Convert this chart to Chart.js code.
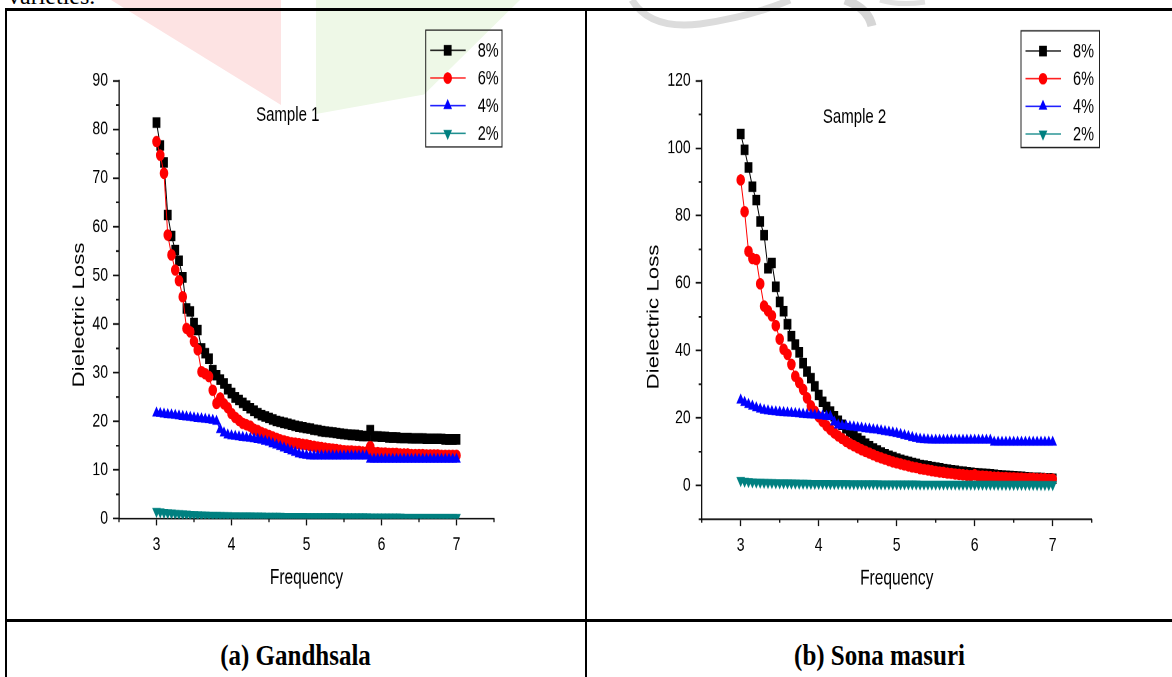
<!DOCTYPE html>
<html lang="en">
<head>
<meta charset="UTF-8">
<title>Dielectric Loss vs Frequency</title>
<script src="https://cdn.jsdelivr.net/npm/chart.js"></script>
<style>
  html, body { margin: 0; padding: 0; background: #fff; }
  body { width: 1172px; height: 677px; position: relative; overflow: hidden; }
  .wm { position: absolute; }
  .pink { left: 111px; top: 0; width: 170px; height: 105px; background: #fde3e3; clip-path: polygon(0 0, 100% 0, 100% 100%); }
  .green { left: 316px; top: 0; width: 204px; height: 114px; background: #eef8e7; clip-path: polygon(0 0, 100% 0, 53% 83%, 0 100%); }
  .rule { position: absolute; background: #000; }
  .toptext { position: absolute; left: 8px; top: -17px; font: 24px "Liberation Serif", serif; color: #000; }
  .chartbox { position: absolute; top: 0; width: 580px; height: 459px; transform: scaleY(1.35); transform-origin: 0 0; }
  .chartbox canvas { display: block; }
  .caption { position: absolute; top: 640px; font: bold 25px "Liberation Serif", serif; line-height: 30px; text-align: center; color: #000; transform: scaleY(1.2); transform-origin: 50% 50%; }
</style>
</head>
<body>
  <div class="wm pink"></div>
  <div class="wm green"></div>
  <svg class="wm" style="left:0;top:0" width="1172" height="40">
    <path d="M 632 0 Q 650 30 700 24 Q 750 17 790 0" fill="none" stroke="#dcdcdc" stroke-width="7"/>
    <path d="M 845 0 Q 868 8 872 26" fill="none" stroke="#d6d6d6" stroke-width="9"/>
    <path d="M 880 0 Q 900 6 925 2" fill="none" stroke="#e2e2e2" stroke-width="5"/>
  </svg>
  <div class="toptext">varieties.</div>

  <div class="rule" style="left:5px;top:8px;width:1167px;height:2.5px"></div>
  <div class="rule" style="left:5px;top:8px;width:1.5px;height:669px"></div>
  <div class="rule" style="left:585px;top:8px;width:1.5px;height:669px"></div>
  <div class="rule" style="left:5px;top:619px;width:1167px;height:2.5px"></div>

  <div class="chartbox" style="left:0"><canvas id="chart1"></canvas></div>
  <div class="chartbox" style="left:586px"><canvas id="chart2"></canvas></div>

  <div class="caption" style="left:6px;width:579px">(a) Gandhsala</div>
  <div class="caption" style="left:587px;width:585px">(b) Sona masuri</div>

<script>
// frequency values shared by every series
const freq = [
  3.00, 3.05, 3.10, 3.15, 3.20, 3.25, 3.30, 3.35, 3.40, 3.45,
  3.50, 3.55, 3.60, 3.65, 3.70, 3.75, 3.80, 3.85, 3.90, 3.95,
  4.00, 4.05, 4.10, 4.15, 4.20, 4.25, 4.30, 4.35, 4.40, 4.45,
  4.50, 4.55, 4.60, 4.65, 4.70, 4.75, 4.80, 4.85, 4.90, 4.95,
  5.00, 5.05, 5.10, 5.15, 5.20, 5.25, 5.30, 5.35, 5.40, 5.45,
  5.50, 5.55, 5.60, 5.65, 5.70, 5.75, 5.80, 5.85, 5.90, 5.95,
  6.00, 6.05, 6.10, 6.15, 6.20, 6.25, 6.30, 6.35, 6.40, 6.45,
  6.50, 6.55, 6.60, 6.65, 6.70, 6.75, 6.80, 6.85, 6.90, 6.95,
  7.00
];
const seriesLabels = ['8%', '6%', '4%', '2%'];

// Sample 1 (Gandhsala)
const s1_8 = [
  81.4, 76.7, 73.2, 62.4, 58.1, 55.2, 53.0, 49.6, 43.2, 42.6,
  40.2, 38.8, 35.0, 34.0, 32.9, 30.5, 29.5, 28.6, 27.8, 26.6,
  25.8, 24.9, 24.4, 23.8, 23.2, 22.7, 22.2, 21.7, 21.3, 21.0,
  20.7, 20.4, 20.1, 19.9, 19.7, 19.5, 19.3, 19.1, 18.9, 18.8,
  18.6, 18.5, 18.3, 18.2, 18.0, 17.9, 17.8, 17.7, 17.6, 17.5,
  17.4, 17.3, 17.2, 17.2, 17.1, 17.0, 17.0, 18.2, 16.9, 16.9,
  16.8, 16.8, 16.7, 16.7, 16.7, 16.6, 16.6, 16.6, 16.5, 16.5,
  16.5, 16.5, 16.4, 16.4, 16.4, 16.4, 16.4, 16.3, 16.3, 16.3,
  16.3
];
const s1_6 = [
  77.5, 74.7, 71.0, 58.3, 54.2, 51.1, 48.9, 45.6, 39.1, 38.4,
  36.4, 34.7, 30.2, 29.8, 29.2, 26.4, 23.7, 24.8, 23.6, 22.8,
  21.6, 20.8, 20.2, 19.6, 19.3, 19.0, 18.4, 18.1, 17.7, 17.4,
  17.1, 16.8, 16.5, 16.2, 16.0, 15.8, 15.6, 15.5, 15.4, 15.3,
  15.2, 15.0, 14.9, 14.7, 14.6, 14.5, 14.4, 14.3, 14.2, 14.1,
  14.0, 13.9, 13.9, 13.8, 13.8, 13.7, 13.7, 14.8, 13.6, 13.6,
  13.5, 13.5, 13.4, 13.4, 13.4, 13.3, 13.3, 13.3, 13.2, 13.2,
  13.2, 13.2, 13.1, 13.1, 13.1, 13.1, 13.0, 13.0, 13.0, 13.0,
  13.0
];
const s1_4 = [
  21.7, 21.6, 21.5, 21.4, 21.3, 21.2, 21.1, 21.0, 20.9, 20.8,
  20.7, 20.6, 20.5, 20.4, 20.3, 20.2, 20.0, 18.3, 17.6, 17.2,
  17.0, 16.9, 16.8, 16.7, 16.6, 16.5, 16.4, 16.3, 16.1, 15.9,
  15.7, 15.4, 15.1, 14.8, 14.5, 14.2, 13.9, 13.6, 13.3, 13.1,
  13.0, 12.9, 12.9, 12.9, 12.9, 12.9, 12.9, 12.9, 12.9, 12.9,
  12.9, 12.9, 12.9, 12.9, 12.9, 12.9, 12.9, 12.2, 12.2, 12.2,
  12.2, 12.2, 12.2, 12.2, 12.2, 12.2, 12.2, 12.2, 12.2, 12.2,
  12.2, 12.2, 12.2, 12.2, 12.2, 12.2, 12.2, 12.2, 12.2, 12.2,
  12.2
];
const s1_2 = [
  1.5, 1.4, 1.3, 1.25, 1.2, 1.1, 1.05, 1.0, 0.95, 0.9,
  0.85, 0.82, 0.8, 0.77, 0.75, 0.72, 0.7, 0.68, 0.66, 0.64,
  0.62, 0.6, 0.59, 0.58, 0.57, 0.56, 0.55, 0.54, 0.53, 0.52,
  0.51, 0.5, 0.5, 0.49, 0.48, 0.48, 0.47, 0.47, 0.46, 0.46,
  0.45, 0.45, 0.44, 0.44, 0.43, 0.43, 0.42, 0.42, 0.42, 0.41,
  0.41, 0.4, 0.4, 0.4, 0.39, 0.39, 0.39, 0.38, 0.38, 0.38,
  0.37, 0.37, 0.37, 0.36, 0.36, 0.36, 0.35, 0.35, 0.35, 0.34,
  0.34, 0.34, 0.33, 0.33, 0.33, 0.32, 0.32, 0.32, 0.31, 0.31,
  0.3
];

// Sample 2 (Sona masuri)
const s2_8 = [
  104.2, 99.5, 94.3, 88.6, 84.6, 78.3, 74.2, 64.4, 66.0, 58.9,
  54.4, 51.7, 47.8, 44.3, 41.8, 39.5, 36.3, 33.8, 31.8, 29.4,
  26.8, 24.8, 23.3, 21.9, 20.5, 19.2, 18.0, 16.9, 15.9, 14.9,
  14.0, 13.2, 12.4, 11.7, 11.0, 10.4, 9.8, 9.3, 8.8, 8.4,
  8.0, 7.6, 7.3, 7.0, 6.7, 6.4, 6.1, 5.9, 5.7, 5.5,
  5.3, 5.1, 4.9, 4.7, 4.5, 4.4, 4.2, 4.1, 3.9, 3.8,
  3.7, 3.6, 3.5, 3.4, 3.3, 3.2, 3.1, 3.0, 2.9, 2.8,
  2.7, 2.6, 2.6, 2.5, 2.4, 2.3, 2.3, 2.2, 2.1, 2.1,
  2.0
];
const s2_6 = [
  90.6, 81.2, 69.4, 67.3, 67.0, 59.8, 53.2, 51.8, 50.3, 47.4,
  43.4, 40.4, 38.9, 35.9, 32.4, 30.5, 28.5, 26.0, 23.6, 22.0,
  20.4, 19.0, 17.7, 16.6, 15.6, 14.7, 13.9, 13.1, 12.4, 11.8,
  11.2, 10.6, 10.1, 9.6, 9.1, 8.6, 8.2, 7.8, 7.4, 7.0,
  6.7, 6.4, 6.1, 5.8, 5.5, 5.3, 5.0, 4.8, 4.6, 4.4,
  4.2, 4.0, 3.9, 3.7, 3.6, 3.4, 3.3, 3.2, 3.1, 3.0,
  3.2, 2.8, 2.8, 2.7, 2.6, 2.5, 2.5, 2.4, 2.4, 2.3,
  2.3, 2.2, 2.2, 2.1, 2.1, 2.1, 2.0, 2.0, 2.0, 1.9,
  1.9
];
const s2_4 = [
  25.3, 24.6, 24.0, 23.5, 23.0, 22.6, 22.3, 22.1, 21.9, 21.8,
  21.7, 21.6, 21.5, 21.4, 21.3, 21.2, 21.1, 21.0, 20.9, 20.8,
  20.7, 20.6, 20.5, 20.4, 18.8, 17.9, 17.7, 17.6, 17.4, 17.3,
  17.1, 17.0, 16.8, 16.7, 16.5, 16.4, 16.2, 16.0, 15.8, 15.6,
  15.4, 15.1, 14.8, 14.5, 14.2, 13.9, 13.7, 13.6, 13.5, 13.4,
  13.4, 13.4, 13.4, 13.4, 13.4, 13.4, 13.4, 13.4, 13.4, 13.4,
  13.4, 13.4, 13.4, 13.4, 13.4, 12.8, 12.8, 12.8, 12.8, 12.8,
  12.8, 12.8, 12.8, 12.8, 12.8, 12.8, 12.8, 12.8, 12.8, 12.8,
  12.8
];
const s2_2 = [
  1.5, 1.3, 1.2, 1.1, 1.05, 1.0, 0.95, 0.9, 0.88, 0.85,
  0.82, 0.8, 0.78, 0.76, 0.74, 0.72, 0.7, 0.68, 0.67, 0.66,
  0.65, 0.64, 0.63, 0.62, 0.61, 0.6, 0.59, 0.58, 0.57, 0.56,
  0.55, 0.55, 0.54, 0.54, 0.53, 0.53, 0.52, 0.52, 0.51, 0.51,
  0.5, 0.5, 0.49, 0.49, 0.48, 0.48, 0.47, 0.47, 0.46, 0.46,
  0.45, 0.45, 0.44, 0.44, 0.43, 0.43, 0.42, 0.42, 0.41, 0.41,
  0.4, 0.4, 0.39, 0.39, 0.38, 0.38, 0.37, 0.37, 0.36, 0.36,
  0.35, 0.35, 0.34, 0.34, 0.33, 0.33, 0.32, 0.32, 0.31, 0.31,
  0.3
];

Chart.defaults.font.family = '"Liberation Sans", Arial, sans-serif';
Chart.defaults.color = '#000';

const axisColor = '#111';
const styles = [
  { color: '#000000', shape: 'rect', r: 4.8, rot: 0 },
  { color: '#ff0000', shape: 'circle', r: 3.8, rot: 0 },
  { color: '#0000ff', shape: 'triangle', r: 4.0, rot: 0 },
  { color: '#008080', shape: 'triangle', r: 4.0, rot: 180 }
];

function drawMarker(ctx, st, x, y) {
  ctx.beginPath();
  if (st.shape === 'rect') {
    const s = Math.SQRT1_2 * st.r;
    ctx.rect(x - s, y - s, 2 * s, 2 * s);
  } else if (st.shape === 'circle') {
    ctx.arc(x, y, st.r, 0, Math.PI * 2);
  } else {
    let a = st.rot * Math.PI / 180;
    ctx.moveTo(x + Math.sin(a) * st.r, y - Math.cos(a) * st.r);
    for (let k = 0; k < 2; k++) {
      a += Math.PI * 2 / 3;
      ctx.lineTo(x + Math.sin(a) * st.r, y - Math.cos(a) * st.r);
    }
    ctx.closePath();
  }
  ctx.fillStyle = st.color;
  ctx.strokeStyle = st.color;
  ctx.lineWidth = 1;
  ctx.fill();
  ctx.stroke();
}

// legend, sample label, y title and short minor ticks
const decoPlugin = {
  id: 'deco',
  afterDraw(chart, args, o) {
    const ctx = chart.ctx;
    const area = chart.chartArea;
    const xs = chart.scales.x, ys = chart.scales.y;
    ctx.save();

    // minor ticks
    ctx.strokeStyle = axisColor;
    ctx.lineWidth = 1.3;
    ctx.beginPath();
    xs.ticks.forEach(t => {
      if (!Number.isInteger(t.value)) {
        const px = xs.getPixelForValue(t.value);
        ctx.moveTo(px, area.bottom);
        ctx.lineTo(px, area.bottom + 2.6);
      }
    });
    ys.ticks.forEach(t => {
      if (t.value % o.yMajor !== 0) {
        const py = ys.getPixelForValue(t.value);
        ctx.moveTo(area.left - 3, py);
        ctx.lineTo(area.left, py);
      }
    });
    ctx.stroke();

    // y axis title
    ctx.fillStyle = '#000';
    ctx.font = '16.5px "Liberation Sans", Arial, sans-serif';
    ctx.textAlign = 'center';
    ctx.textBaseline = 'middle';
    ctx.save();
    ctx.translate(o.yTitleX, o.yTitleY);
    ctx.rotate(-Math.PI / 2);
    ctx.fillText('Dielectric Loss', 0, 0);
    ctx.restore();

    // sample label placed in data coordinates
    ctx.font = '15px "Liberation Sans", Arial, sans-serif';
    ctx.fillText(o.sample, xs.getPixelForValue(o.sampleX), ys.getPixelForValue(o.sampleY));

    // legend
    const b = o.box;
    ctx.strokeStyle = '#222';
    ctx.lineWidth = 1;
    ctx.strokeRect(b.x, b.y, b.w, b.h);
    ctx.font = '14.5px "Liberation Sans", Arial, sans-serif';
    ctx.textAlign = 'left';
    chart.data.datasets.forEach((ds, i) => {
      const st = styles[i];
      const ry = b.y + 15 + i * 20.5;
      ctx.strokeStyle = st.color;
      ctx.lineWidth = 1;
      ctx.beginPath();
      ctx.moveTo(b.x + 4.5, ry);
      ctx.lineTo(b.x + 40, ry);
      ctx.stroke();
      drawMarker(ctx, st, b.x + 22, ry);
      ctx.fillStyle = '#000';
      ctx.fillText(ds.label, b.x + 52, ry + 0.5);
    });
    ctx.restore();
  }
};

function buildChart(id, series, ax, deco) {
  const datasets = series.map((vals, i) => ({
    label: seriesLabels[i],
    data: freq.map((f, j) => ({ x: f, y: vals[j] })),
    borderColor: styles[i].color,
    backgroundColor: styles[i].color,
    borderWidth: 1,
    pointStyle: styles[i].shape,
    pointRadius: styles[i].r,
    pointRotation: styles[i].rot,
    pointBorderWidth: 1,
    pointBackgroundColor: styles[i].color,
    pointBorderColor: styles[i].color,
    tension: 0,
    order: 4 - i
  }));

  return new Chart(document.getElementById(id), {
    type: 'line',
    data: { datasets: datasets },
    options: {
      animation: false,
      responsive: true,
      maintainAspectRatio: false,
      devicePixelRatio: 2,
      events: [],
      layout: { padding: ax.pad },
      plugins: {
        legend: { display: false },
        tooltip: { enabled: false },
        deco: deco
      },
      scales: {
        x: {
          type: 'linear',
          min: 2.5,
          max: 7.5,
          afterFit: s => { s.height = ax.xh; },
          border: { display: true, color: axisColor, width: 1.3 },
          grid: {
            drawOnChartArea: false,
            drawTicks: true,
            tickLength: 5,
            tickWidth: 1.3,
            tickColor: c => (c.tick && Number.isInteger(c.tick.value)) ? axisColor : 'rgba(0,0,0,0)'
          },
          ticks: {
            stepSize: 0.5,
            autoSkip: false,
            maxRotation: 0,
            padding: 6,
            font: { size: 14 },
            callback: v => Number.isInteger(v) ? v : ''
          },
          title: { display: true, text: 'Frequency', font: { size: 15.5 }, padding: 0 }
        },
        y: {
          min: ax.yMin,
          max: ax.yMax,
          afterFit: s => { s.width = ax.yw; },
          border: { display: true, color: axisColor, width: 1.3 },
          grid: {
            drawOnChartArea: false,
            drawTicks: true,
            tickLength: 6,
            tickWidth: 1.3,
            tickColor: c => (c.tick && c.tick.value % ax.yMajor === 0) ? axisColor : 'rgba(0,0,0,0)'
          },
          ticks: {
            stepSize: ax.yStep,
            autoSkip: false,
            padding: 5,
            font: { size: 14 },
            callback: v => v % ax.yMajor === 0 ? v : ''
          }
        }
      }
    },
    plugins: [decoPlugin]
  });
}

buildChart('chart1', [s1_8, s1_6, s1_4, s1_2],
  { pad: { left: 40, top: 59.8, right: 86, bottom: 21.6 }, xh: 53.2, yw: 79,
    yMin: 0, yMax: 90, yStep: 5, yMajor: 10 },
  { yMajor: 10, yTitleX: 79.5, yTitleY: 233.3, sample: 'Sample 1', sampleX: 4.75, sampleY: 82.9,
    box: { x: 425.7, y: 22.3, w: 76.3, h: 86.5 } });

buildChart('chart2', [s2_8, s2_6, s2_4, s2_2],
  { pad: { left: 40, top: 59.8, right: 74.3, bottom: 20.8 }, xh: 53.6, yw: 75.7,
    yMin: -10, yMax: 120, yStep: 10, yMajor: 20 },
  { yMajor: 20, yTitleX: 68, yTitleY: 234.8, sample: 'Sample 2', sampleX: 4.46, sampleY: 109.1,
    box: { x: 435, y: 22.8, w: 78.5, h: 86.5 } });
</script>
</body>
</html>
